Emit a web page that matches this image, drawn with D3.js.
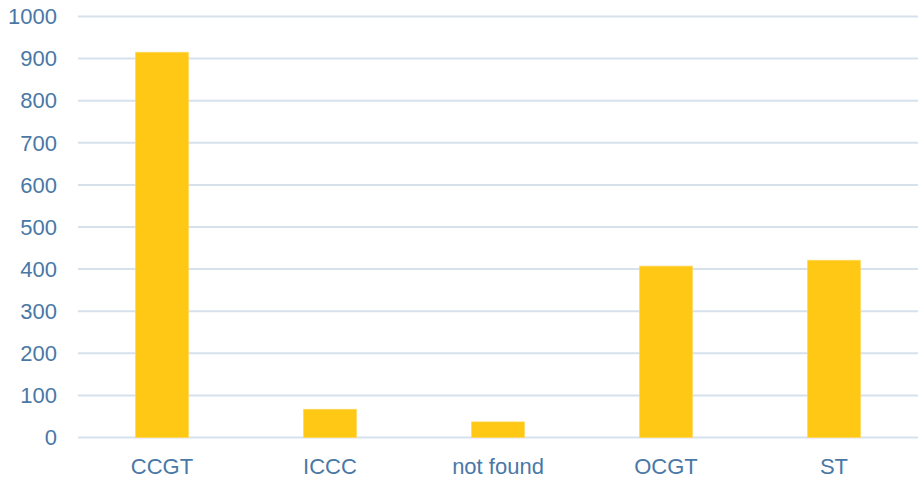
<!DOCTYPE html>
<html>
<head>
<meta charset="utf-8">
<script src="https://cdn.jsdelivr.net/npm/d3@7"></script>
<style>
  body { margin: 0; background: #fff; }
</style>
</head>
<body>
<div id="chart"></div>
<script>
var categories = ["CCGT", "ICCC", "not found", "OCGT", "ST"];
var values = [915, 67, 37, 407, 421];
var yTicks = [0, 100, 200, 300, 400, 500, 600, 700, 800, 900, 1000];

var margin = {top: 16.5, right: 0, bottom: 43.5, left: 78},
    width = 918 - margin.left - margin.right,
    height = 481 - margin.top - margin.bottom;

var svg = d3.select("#chart").append("svg")
    .attr("width", 918)
    .attr("height", 481)
    .append("g")
    .attr("transform", "translate(" + margin.left + "," + margin.top + ")");

var x = d3.scaleBand().domain(categories).range([0, width]).paddingInner(0.686).paddingOuter(0.343);
var y = d3.scaleLinear().domain([0, 1000]).range([height, 0]);

// gridlines
svg.append("g")
    .selectAll("line")
    .data(yTicks)
    .enter()
    .append("line")
    .attr("x1", 0)
    .attr("x2", width)
    .attr("y1", d => y(d))
    .attr("y2", d => y(d))
    .style("stroke", "#d6e1ec")
    .style("stroke-width", 2);

// y labels
svg.append("g")
    .selectAll("text")
    .data(yTicks)
    .enter()
    .append("text")
    .attr("x", -21)
    .attr("y", d => y(d))
    .attr("dy", "0.35em")
    .style("text-anchor", "end")
    .style("font-family", "'Liberation Sans', Arial, sans-serif")
    .style("font-size", "22px")
    .style("fill", "#4a78a6")
    .text(d => d);

// bars
svg.selectAll("rect")
    .data(categories)
    .enter()
    .append("rect")
    .attr("x", d => x(d))
    .attr("width", x.bandwidth())
    .attr("y", (d, i) => y(values[i]))
    .attr("height", (d, i) => height - y(values[i]))
    .style("fill", "#ffc815")
    .style("stroke", "#ffd659")
    .style("stroke-width", 0.8);

// x labels
svg.append("g")
    .selectAll("text")
    .data(categories)
    .enter()
    .append("text")
    .attr("x", d => x(d) + x.bandwidth() / 2)
    .attr("y", height + 36.5)
    .style("text-anchor", "middle")
    .style("font-family", "'Liberation Sans', Arial, sans-serif")
    .style("font-size", "22px")
    .style("fill", "#4a78a6")
    .text(d => d);
</script>
</body>
</html>
